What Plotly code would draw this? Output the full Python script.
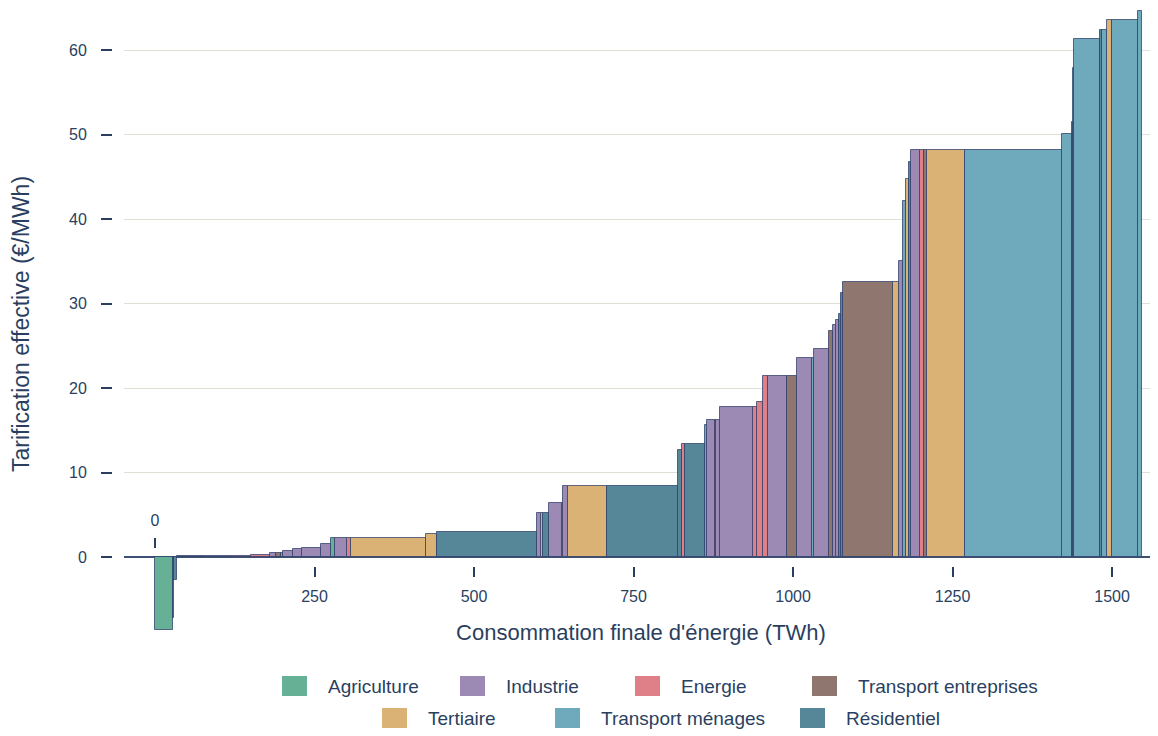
import numpy as np
import plotly.graph_objects as go

# Bars of the curve, ordered as drawn (left to right)
sectors = [
    "Agriculture", "Résidentiel", "Résidentiel", "Résidentiel", "Industrie", "Energie", "Energie",
    "Industrie", "Transport entreprises", "Agriculture", "Industrie", "Industrie", "Industrie", "Industrie",
    "Agriculture", "Industrie", "Energie", "Tertiaire", "Tertiaire", "Résidentiel",
    "Industrie", "Tertiaire", "Résidentiel", "Industrie", "Tertiaire", "Industrie", "Tertiaire", "Résidentiel",
    "Résidentiel", "Energie", "Résidentiel", "Transport ménages", "Industrie", "Energie", "Industrie",
    "Industrie", "Energie", "Energie", "Energie", "Industrie", "Transport entreprises",
    "Industrie", "Transport ménages", "Industrie", "Transport entreprises", "Industrie", "Industrie",
    "Résidentiel", "Résidentiel", "Transport entreprises", "Tertiaire", "Industrie", "Transport ménages",
    "Tertiaire", "Résidentiel", "Industrie", "Energie", "Transport entreprises", "Tertiaire",
    "Transport ménages", "Transport ménages", "Résidentiel", "Transport ménages", "Transport ménages",
    "Résidentiel", "Transport ménages", "Tertiaire", "Transport ménages", "Transport ménages",
]
consumption = [  # TWh, width of each bar
    28, 1.5, 4.5, 41, 43, 32, 30,
    10, 7, 4, 15, 14, 30, 16,
    6, 19, 6, 118, 17, 157,
    6, 3, 10, 20, 2, 7, 61, 112,
    6, 5, 31, 3, 13, 2, 6,
    51, 7, 9, 8, 30, 15,
    24, 3, 23, 7, 4, 5,
    3, 3, 79, 9, 6, 5,
    5, 3, 14, 6, 5, 60,
    152, 15, 1.5, 1.5, 41,
    3, 8, 8, 41, 6,
]
pricing = [  # €/MWh, height of each bar
    -8.6, -7.2, -2.7, 0.1, 0.1, 0.15, 0.2,
    0.5, 0.5, 0.5, 0.7, 0.9, 1.1, 1.6,
    2.3, 2.3, 2.3, 2.3, 2.7, 3.0,
    5.2, 5.2, 5.2, 6.35, 6.35, 8.4, 8.4, 8.4,
    12.7, 13.4, 13.4, 15.6, 16.2, 16.2, 16.2,
    17.75, 17.75, 18.4, 21.4, 21.4, 21.4,
    23.5, 23.5, 24.6, 26.7, 27.5, 28.0,
    28.8, 31.2, 32.6, 32.6, 35.0, 42.1,
    44.7, 46.8, 48.2, 48.2, 48.2, 48.2,
    48.2, 50.1, 51.5, 57.9, 61.3,
    62.4, 62.4, 63.5, 63.5, 64.6,
]

legend_order = ["Agriculture", "Industrie", "Energie", "Transport entreprises",
                "Tertiaire", "Transport ménages", "Résidentiel"]
colors = {
    "Agriculture": "#66b096",
    "Industrie": "#9d8ab4",
    "Energie": "#df7f87",
    "Transport entreprises": "#8f766e",
    "Tertiaire": "#dbb276",
    "Transport ménages": "#6eaabb",
    "Résidentiel": "#568799",
}
x_ticks = [250, 500, 750, 1000, 1250, 1500]
y_ticks = [0, 10, 20, 30, 40, 50, 60]

widths = np.array(consumption, dtype=float)
starts = np.concatenate([[0.0], np.cumsum(widths)[:-1]])
heights = np.array(pricing)
sec = np.array(sectors)

FONT = "Liberation Sans, Arial, sans-serif"
TXT = "#2a3f5f"

fig = go.Figure()
for s in legend_order:
    m = sec == s
    fig.add_trace(go.Bar(
        x=starts[m], y=heights[m], width=widths[m], offset=0,
        marker=dict(color=colors[s], line=dict(color="rgba(45,62,105,0.75)", width=1)),
        name=s, showlegend=False,
    ))

# empty traces so the extra axes get drawn
fig.add_trace(go.Scatter(x=[None], y=[None], xaxis="x2", showlegend=False, hoverinfo="skip"))
fig.add_trace(go.Scatter(x=[None], y=[None], xaxis="x3", showlegend=False, hoverinfo="skip"))

# page has an 8px body margin, positions below are given in screen pixels
OFF = 8
W, H = 1150, 728
ML, MR, MT, MB = 104, 0, 0, 96
PW, PH = W - ML - MR, H - MT - MB


def px(x):
    return (x - OFF - ML) / PW


def py(y):
    return (H - MB - (y - OFF)) / PH


xr = [-48.6, 1572]
dom = [px(124), 1]

# hand-made legend
legend_items = [
    ("Agriculture", 282, 686), ("Industrie", 460, 686), ("Energie", 635, 686),
    ("Transport entreprises", 812, 686),
    ("Tertiaire", 382, 718), ("Transport ménages", 555, 718), ("Résidentiel", 800, 718),
]
shapes, annots = [], []
for name, lx, ly in legend_items:
    shapes.append(dict(type="rect", xref="paper", yref="paper",
                       x0=px(lx), x1=px(lx + 25), y0=py(ly + 10), y1=py(ly - 10),
                       fillcolor=colors[name], line=dict(width=0)))
    annots.append(dict(xref="paper", yref="paper", x=px(lx + 44), y=py(ly),
                       xanchor="left", yanchor="middle", text=name, showarrow=False,
                       font=dict(size=19, color=TXT, family=FONT)))

fig.update_layout(
    width=W, height=H,
    margin=dict(l=ML, r=MR, t=MT, b=MB),
    plot_bgcolor="white", paper_bgcolor="white",
    barmode="overlay", bargap=0,
    font=dict(family=FONT, color=TXT, size=16),
    showlegend=False,
    xaxis=dict(range=xr, domain=dom, showticklabels=False, ticks="", showgrid=False,
               zeroline=False, showline=False),
    xaxis2=dict(range=xr, domain=dom, overlaying="x", anchor="free", position=py(566),
                side="bottom", tickvals=x_ticks, ticks="outside", ticklen=10, tickwidth=1.5,
                tickcolor=TXT, showgrid=False, zeroline=False, showline=False,
                tickfont=dict(size=16), ticklabelstandoff=6,
                title=dict(text="Consommation finale d'énergie (TWh)", font=dict(size=22), standoff=20)),
    xaxis3=dict(range=xr, domain=dom, overlaying="x", anchor="free", position=py(548),
                side="top", tickvals=[0], ticks="outside", ticklen=10, tickwidth=1.5,
                tickcolor=TXT, showgrid=False, zeroline=False, showline=False,
                tickfont=dict(size=16), ticklabelstandoff=6),
    yaxis=dict(range=[-9.82, 64.97], anchor="free", position=0, tickvals=y_ticks,
               ticks="outside", ticklen=11, tickwidth=1.5, tickcolor=TXT,
               ticklabelstandoff=11,
               gridcolor="#dfe0d4", gridwidth=1, zeroline=True, zerolinecolor="#3d4f72",
               zerolinewidth=1.5, showline=False, tickfont=dict(size=16),
               title=dict(text="Tarification effective (€/MWh)", font=dict(size=23), standoff=33)),
    shapes=shapes,
    annotations=annots,
)

fig.write_html("out.html")
